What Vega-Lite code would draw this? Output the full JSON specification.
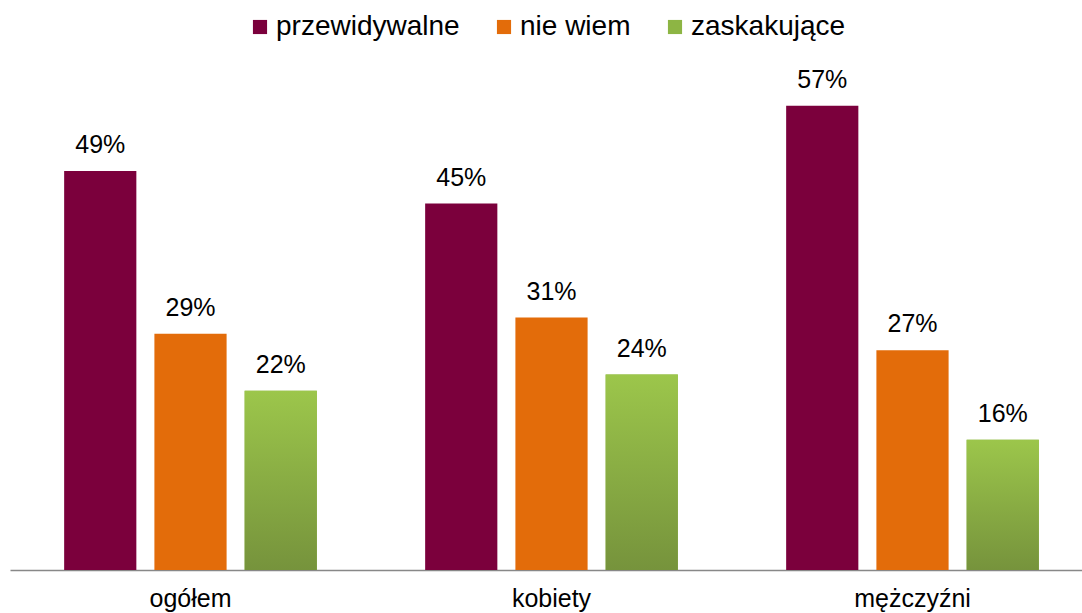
{
  "$schema": "https://vega.github.io/schema/vega-lite/v6.json",
  "width": 1083,
  "height": 570,
  "autosize": {"type": "none"},
  "padding": {"left": 10, "top": 0, "right": 0, "bottom": 43},
  "background": "white",
  "config": {
    "view": {"stroke": null},
    "font": "Liberation Sans"
  },
  "data": {
    "values": [
      {"grupa": "ogółem", "odp": "przewidywalne", "v": 0.49},
      {"grupa": "ogółem", "odp": "nie wiem", "v": 0.29},
      {"grupa": "ogółem", "odp": "zaskakujące", "v": 0.22},
      {"grupa": "kobiety", "odp": "przewidywalne", "v": 0.45},
      {"grupa": "kobiety", "odp": "nie wiem", "v": 0.31},
      {"grupa": "kobiety", "odp": "zaskakujące", "v": 0.24},
      {"grupa": "mężczyźni", "odp": "przewidywalne", "v": 0.57},
      {"grupa": "mężczyźni", "odp": "nie wiem", "v": 0.27},
      {"grupa": "mężczyźni", "odp": "zaskakujące", "v": 0.16}
    ]
  },
  "encoding": {
    "x": {
      "field": "grupa", "type": "nominal", "sort": ["ogółem", "kobiety", "mężczyźni"],
      "scale": {"paddingInner": 0.3, "paddingOuter": 0.15},
      "axis": {"title": null, "labelAngle": 0, "labelFontSize": 25, "labelColor": "#000000", "labelPadding": 16, "ticks": false, "domainColor": "#888888", "domainWidth": 1.5, "labelFont": "Liberation Sans"}
    },
    "xOffset": {"field": "odp", "type": "nominal", "sort": ["przewidywalne", "nie wiem", "zaskakujące"], "scale": {"paddingInner": 0.2, "paddingOuter": 0}},
    "y": {"field": "v", "type": "quantitative", "scale": {"domain": [0, 0.7], "nice": false}, "axis": null}
  },
  "layer": [
    {
      "mark": {"type": "bar"},
      "encoding": {
        "color": {
          "field": "odp", "type": "nominal", "sort": ["przewidywalne", "nie wiem", "zaskakujące"],
          "scale": {"domain": ["przewidywalne", "nie wiem", "zaskakujące"], "range": ["#7B003C", "#E36C0A", "#8DB544"]},
          "legend": {
            "title": null, "orient": "none", "legendX": 236, "legendY": 13, "direction": "horizontal",
            "symbolType": "square", "symbolSize": 200, "symbolStrokeWidth": 0, "symbolOpacity": 1,
            "labelFontSize": 28, "labelLimit": 400, "labelColor": "#000000", "labelOffset": 2, "columnPadding": 30, "labelFont": "Liberation Sans"
          }
        }
      }
    },
    {
      "transform": [{"filter": "datum.odp == 'zaskakujące'"}],
      "mark": {
        "type": "bar",
        "color": {"gradient": "linear", "x1": 0, "y1": 0, "x2": 0, "y2": 1, "stops": [{"offset": 0, "color": "#9CC64B"}, {"offset": 1, "color": "#76933C"}]}
      }
    },
    {
      "mark": {"type": "text", "dy": -26, "fontSize": 25, "color": "#000000", "font": "Liberation Sans"},
      "encoding": {"text": {"field": "v", "type": "quantitative", "format": ".0%"}}
    }
  ]
}
